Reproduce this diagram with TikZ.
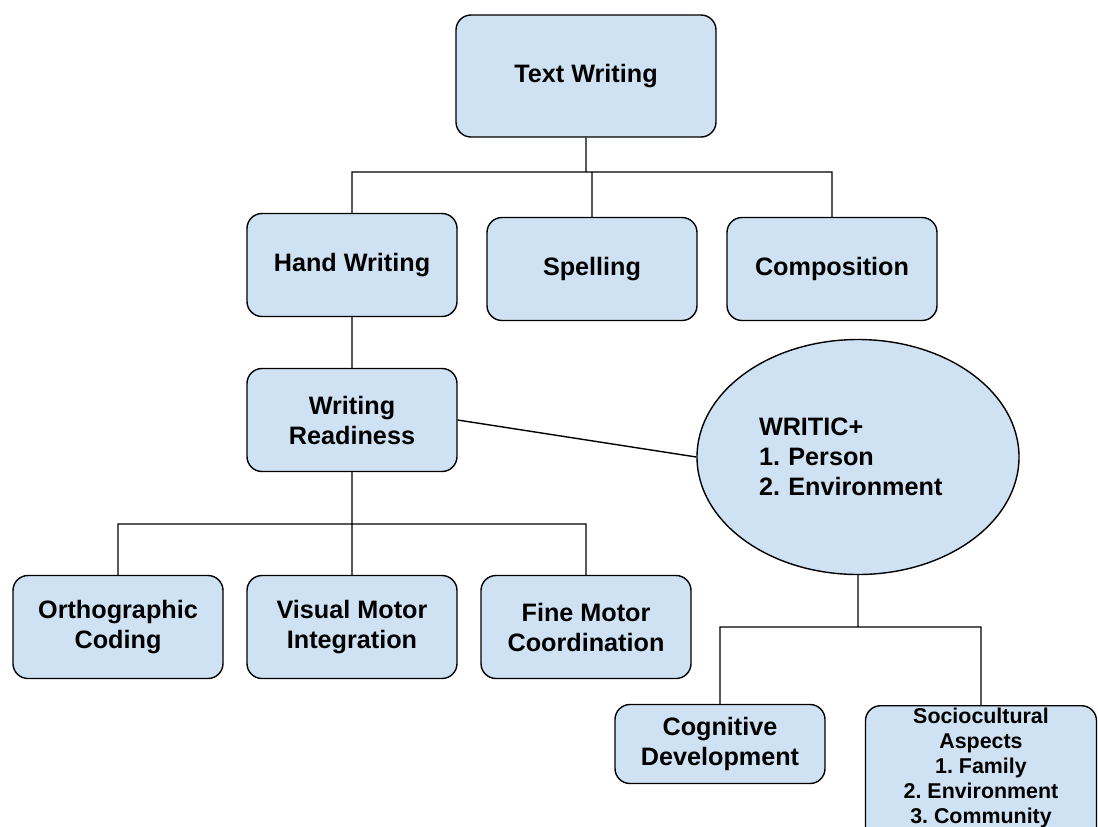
\documentclass[tikz,border=0pt]{standalone}
\usepackage{fontspec}
\setmainfont{Liberation Sans}
\usetikzlibrary{shapes.geometric}
\definecolor{boxblue}{HTML}{CFE2F3}
\tikzset{
	box/.style={draw, fill=boxblue, rounded corners=7.5pt, align=center,
		font=\fontsize{12.6}{15}\selectfont\bfseries,
		minimum width=105pt, minimum height=51.5pt},
	oval/.style={draw, fill=boxblue, ellipse, align=left, inner sep=0pt,
		text width=99pt, font=\fontsize{12.6}{15}\selectfont\bfseries,
		minimum width=161pt, minimum height=117.5pt},
	smallbox/.style={box, inner sep=1pt, minimum width=115.5pt, text depth=14pt,
		font=\fontsize{10.7}{12.5}\selectfont\bfseries}
}

\begin{document}
\frenchspacing
\begin{tikzpicture}[x=0.5pt, y=-0.5pt, line width=0.7pt]
\useasboundingbox (0,0) rectangle (1098,826);

\node[box, minimum width=130pt, minimum height=61pt] (text) at (586,76) {Text Writing};
\node[box] (hand) at (352,265) {Hand Writing};
\node[box] (spell) at (592,269) {Spelling};
\node[box] (comp) at (832,269) {Composition};
\node[box] (ready) at (352,420) {Writing\\Readiness};
\node[oval] (writic) at (858,457) {WRITIC+\\1. Person\\2. Environment};
\node[box] (ortho) at (118,627) {Orthographic\\Coding};
\node[box] (visual) at (352,627) {Visual Motor\\Integration};
\node[box] (fine) at (586,627) {Fine Motor\\Coordination};
\node[box, minimum height=39.5pt] (cogn) at (720,744) {Cognitive\\Development};
\node[smallbox, anchor=north] (socio) at (981,705) {Sociocultural\\Aspects\\1. Family\\2. Environment\\3. Community};

\coordinate (bar1) at (586,172);
\coordinate (bar2) at (352,524);
\coordinate (bar3) at (858,627);

\path[draw]
(text) -- (bar1)
(bar1) -| (hand.north)
(bar1) -| (comp.north)
(spell.north) -- (spell.north |- bar1)
(hand) -- (ready)
(ready.east) -- (writic.west)
(ready) -- (bar2)
(bar2) -| (ortho.north)
(bar2) -| (fine.north)
(bar2) -- (visual)
(writic) -- (bar3)
(bar3) -| (cogn.north)
(bar3) -| (socio.north)
;
\end{tikzpicture}
\end{document}
